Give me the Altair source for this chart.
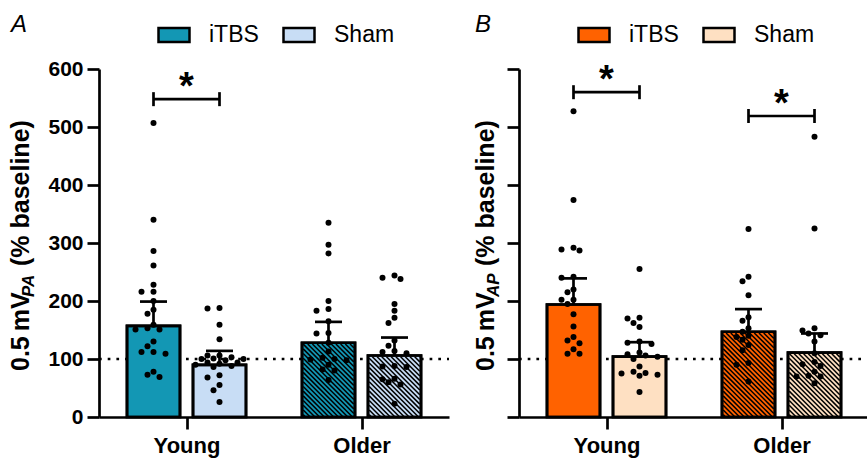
import altair as alt
import pandas as pd

FONT = "Liberation Sans"

groups = ["Young", "Older"]
treatments = ["iTBS", "Sham"]
colors_A = ["#1397B4", "#C8DDF5"]
colors_B = ["#FF6200", "#FEE0C2"]

# ---- Panel A: individual points (% baseline)
A_young_itbs = [507, 340, 286, 261, 228, 216, 216, 200, 185, 178, 159, 153, 151, 151,
                130, 122, 112, 112, 109, 78, 73, 69]
A_young_sham = [188, 187, 159, 134, 106, 106, 103, 101, 100, 100, 98, 94, 94, 92,
                90, 88, 86, 72, 68, 55, 46, 26]
A_older_itbs = [335, 297, 282, 200, 186, 183, 165, 145, 144, 128, 113, 102, 100, 99,
                98, 90, 82, 80, 64]
A_older_sham = [244, 240, 238, 195, 183, 171, 162, 132, 123, 114, 112, 110, 88, 87,
                86, 66, 65, 60, 56, 23]
A_mean = [157, 90, 128, 106]        # Young iTBS, Young Sham, Older iTBS, Older Sham
A_err_top = [199, 114, 164, 137]
A_sig_groups = ["Young"]
A_sig_y = [548]

# ---- Panel B
B_young_itbs = [527, 374, 292, 289, 287, 242, 240, 220, 215, 202, 202, 195, 177, 156,
                138, 132, 127, 117, 109, 109]
B_young_sham = [255, 171, 170, 162, 155, 130, 128, 126, 111, 108, 106, 104, 100, 87,
                78, 76, 75, 73, 71, 43]
B_older_itbs = [324, 242, 234, 210, 172, 166, 153, 147, 140, 138, 133, 124, 115, 93,
                90, 61]
B_older_sham = [483, 325, 153, 149, 144, 141, 130, 110, 95, 91, 88, 78, 71, 70, 70, 58]
B_mean = [194, 104, 147, 111]
B_err_top = [239, 129, 186, 144]
B_sig_groups = ["Young", "Older"]
B_sig_y = [560, 519]

# ---- layout constants (one view holding both panels)
VIEW_W, H = 768, 348
PANEL_W = 350
B_START = 420
YMAX = 600
PXX = PANEL_W / 2.0    # px per group unit (domain -0.5..1.5)
PXY = H / YMAX         # px per % unit
SHIFT = 33 / PXX
HALF = 26.5 / PXX
CAP = 13.5 / PXX
BR_END = 7 / PXY
LW = 2.7


def centre(gi, ti):
    return gi + (-SHIFT if ti == 0 else SHIFT)


def swarm(values, step=6.0, d=6.5):
    placed, res = [], [0.0] * len(values)
    order = sorted(range(len(values)), key=lambda i: -values[i])
    cands = [0.0] + [s * j * step for j in range(1, 12) for s in (-1, 1)]
    for i in order:
        ypx = values[i] * PXY
        for c in cands:
            if all((c - px) ** 2 + (ypx - py) ** 2 >= d * d for px, py in placed):
                break
        placed.append((c, ypx))
        res[i] = c
    return res


def hatch(x0, x1, top, step=4.7):
    wb, hb = (x1 - x0) * PXX, top * PXY
    rows, c = [], step / 2
    while c < wb + hb:
        u0, u1 = max(0.0, c - hb), min(wb, c)
        if u1 > u0:
            rows.append(dict(hx=x0 + u0 / PXX, hx2=x0 + u1 / PXX,
                             hy=(c - u0) / PXY, hy2=(c - u1) / PXY))
        c += step
    return rows


def panel(points, means, tops, sig_groups, sig_ys, colors, letter, sub, first, x0px):
    xs = alt.Scale(domain=[-0.5, 1.5], range=[x0px, x0px + PANEL_W], nice=False, zero=False)
    ys = alt.Scale(domain=[0, YMAX], nice=False)
    label_expr = "[" + ",".join("'%s'" % g for g in groups) + "][datum.value]"
    x_axis = alt.Axis(values=[0, 1], labelExpr=label_expr, title=None, grid=False,
                      orient="bottom", labelFontSize=22, labelPadding=6)
    y_axis = alt.Axis(values=list(range(0, YMAX + 1, 100)), labels=first, title=None,
                      grid=False, orient="left", offset=-x0px)

    def X(f):
        return alt.X(f, type="quantitative", scale=xs, axis=x_axis)

    def Y(f):
        return alt.Y(f, type="quantitative", scale=ys, axis=y_axis)

    bars, dots, hat = [], [], []
    k = 0
    for gi, g in enumerate(groups):
        for ti, t in enumerate(treatments):
            cx = centre(gi, ti)
            bars.append(dict(group=g, treatment=t, cx=cx, x0=cx - HALF, x1=cx + HALF,
                             zero=0, mean=means[k], top=tops[k], c0=cx - CAP, c1=cx + CAP))
            vals = points[k]
            for v, o in zip(vals, swarm(vals)):
                dots.append(dict(dx=cx + o / PXX, v=v))
            if gi == 1:
                hat += hatch(cx - HALF + 1.2 / PXX, cx + HALF - 1.2 / PXX,
                             means[k] - 1.2 / PXY)
            k += 1
    bars = pd.DataFrame(bars)
    dots = pd.DataFrame(dots)
    hat = pd.DataFrame(hat)

    brk, ends, stars = [], [], []
    for g, yv in zip(sig_groups, sig_ys):
        gi = groups.index(g)
        a, b = centre(gi, 0), centre(gi, 1)
        brk.append(dict(bx=a, bx2=b, by=yv))
        ends += [dict(ex=a, ey=yv - BR_END, ey2=yv + BR_END),
                 dict(ex=b, ey=yv - BR_END, ey2=yv + BR_END)]
        stars.append(dict(sx=(a + b) / 2, sy=yv, s="*"))
    brk, ends, stars = pd.DataFrame(brk), pd.DataFrame(ends), pd.DataFrame(stars)

    one = pd.DataFrame({"a": [0]})

    ref = alt.Chart(pd.DataFrame({"ref": [100], "l": [-0.5], "r": [1.5]})).mark_rule(
        color="black", strokeWidth=LW, strokeDash=[2.7, 6]).encode(
        x=X("l"), x2="r", y=Y("ref"))

    legend = alt.Legend(title=None, orient="none", legendX=x0px + 58, legendY=-51,
                        direction="horizontal", symbolType="M-1,-0.45H1V0.45H-1Z",
                        symbolSize=961, symbolStrokeColor="black", symbolStrokeWidth=2.5,
                        symbolOpacity=1, labelFont=FONT, labelFontSize=23,
                        labelColor="black", labelOffset=18, columnPadding=19)
    bar_fill = alt.Chart(bars).mark_bar(stroke="black", strokeWidth=LW, opacity=1).encode(
        x=X("x0"), x2="x1", y=Y("mean"), y2="zero",
        color=alt.Color("treatment:N", scale=alt.Scale(domain=treatments, range=colors),
                        legend=legend))
    hatch_l = alt.Chart(hat).mark_rule(color="black", strokeWidth=1.5).encode(
        x=X("hx"), x2="hx2", y=Y("hy"), y2="hy2")
    bar_out = alt.Chart(bars).mark_bar(fill=None, stroke="black", strokeWidth=LW).encode(
        x=X("x0"), x2="x1", y=Y("mean"), y2="zero")
    err = alt.Chart(bars).mark_rule(color="black", strokeWidth=LW).encode(
        x=X("cx"), y=Y("mean"), y2="top")
    cap = alt.Chart(bars).mark_rule(color="black", strokeWidth=LW).encode(
        x=X("c0"), x2="c1", y=Y("top"))
    pts = alt.Chart(dots).mark_circle(color="black", size=36, opacity=1).encode(
        x=X("dx"), y=Y("v"))
    br_h = alt.Chart(brk).mark_rule(color="black", strokeWidth=LW).encode(
        x=X("bx"), x2="bx2", y=Y("by"))
    br_v = alt.Chart(ends).mark_rule(color="black", strokeWidth=LW).encode(
        x=X("ex"), y=Y("ey"), y2="ey2")
    star = alt.Chart(stars).mark_text(font=FONT, fontSize=38, fontWeight="bold",
                                      baseline="alphabetic", dy=0, color="black").encode(
        x=X("sx"), y=Y("sy"), text="s:N")

    title_x = x0px + (-70 if first else -25)
    letter_x = x0px + (-88 if first else -44)
    t1 = alt.Chart(one).mark_text(angle=270, align="left", baseline="alphabetic",
                                  font=FONT, fontSize=25, fontWeight="bold",
                                  color="black").encode(
        x=alt.value(title_x), y=alt.value(302), text=alt.value("0.5\u2009mV"))
    t2 = alt.Chart(one).mark_text(angle=270, align="left", baseline="alphabetic",
                                  font=FONT, fontSize=17, fontWeight="bold",
                                  fontStyle="italic", color="black").encode(
        x=alt.value(title_x + 5), y=alt.value(228), text=alt.value(sub))
    t3 = alt.Chart(one).mark_text(angle=270, align="left", baseline="alphabetic",
                                  font=FONT, fontSize=25, fontWeight="bold",
                                  color="black").encode(
        x=alt.value(title_x), y=alt.value(197), text=alt.value("(% baseline)"))
    let = alt.Chart(one).mark_text(align="left", baseline="alphabetic", font=FONT,
                                   fontSize=24, fontStyle="italic", color="black").encode(
        x=alt.value(letter_x), y=alt.value(-37), text=alt.value(letter))

    return alt.layer(ref, bar_fill, hatch_l, bar_out, err, cap, pts, br_h, br_v, star,
                     t1, t2, t3, let)


pA = panel([A_young_itbs, A_young_sham, A_older_itbs, A_older_sham], A_mean, A_err_top,
           A_sig_groups, A_sig_y, colors_A, "A", "PA", True, 0)
pB = panel([B_young_itbs, B_young_sham, B_older_itbs, B_older_sham], B_mean, B_err_top,
           B_sig_groups, B_sig_y, colors_B, "B", "AP", False, B_START)

chart = alt.layer(pA, pB).resolve_scale(
    x="independent", y="independent", color="independent"
).properties(
    width=VIEW_W, height=H,
    autosize=alt.AutoSizeParams(type="none"),
    padding={"left": 99, "top": 69, "right": 0, "bottom": 41},
).configure_view(stroke=None).configure_axis(
    domainColor="black", domainWidth=LW, tickColor="black", tickWidth=LW, tickSize=12,
    labelColor="black", labelFont=FONT, labelFontWeight="bold", labelFontSize=21,
    labelPadding=4, grid=False
)

chart.save("out.html", embed_options={"renderer": "svg", "actions": False})
